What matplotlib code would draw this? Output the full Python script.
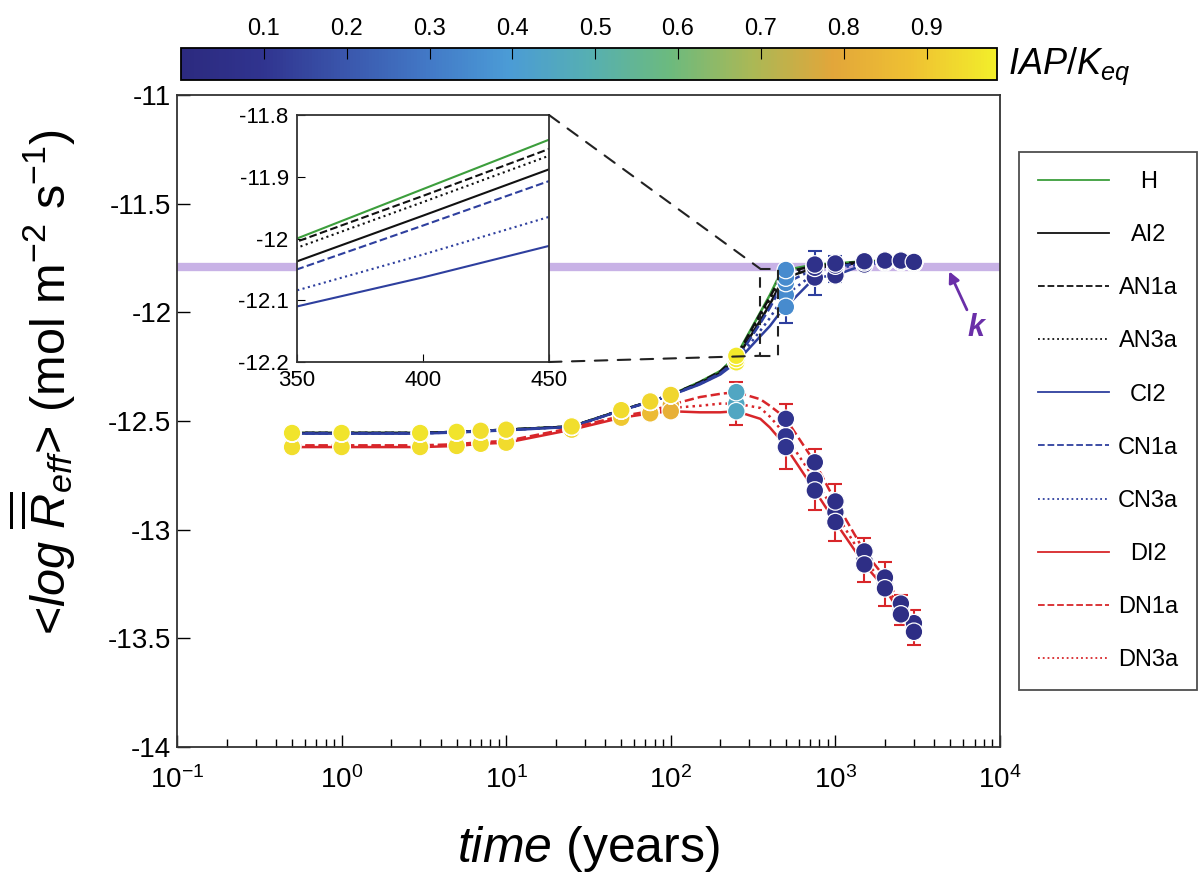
import numpy as np
import matplotlib
matplotlib.use('Agg')
import matplotlib.pyplot as plt
from matplotlib.colors import LinearSegmentedColormap, Normalize
from matplotlib.cm import ScalarMappable
from matplotlib.patches import Rectangle, ConnectionPatch
from matplotlib.ticker import FuncFormatter, LogLocator, NullFormatter

plt.rcParams['font.family'] = ['Liberation Sans', 'DejaVu Sans']
plt.rcParams['mathtext.fontset'] = 'custom'
plt.rcParams['mathtext.rm'] = 'Liberation Sans'
plt.rcParams['mathtext.it'] = 'Liberation Sans:italic'
plt.rcParams['mathtext.bf'] = 'Liberation Sans:bold:italic'

# time grid for the curves (years) and the times that carry markers
t_line = [0.5, 1, 3, 5, 7, 10, 25, 50, 75, 100, 150, 200, 250, 350, 400, 450,
          500, 750, 1000, 1500, 2000, 2500, 3000]
t_mark = [0.5, 1, 3, 5, 7, 10, 25, 50, 75, 100, 250, 500, 750, 1000, 1500,
          2000, 2500, 3000]

# <log R_eff> for each scenario, on t_line
h    = [-12.555, -12.555, -12.555, -12.55, -12.545, -12.54, -12.525, -12.45, -12.41, -12.38,
        -12.32, -12.27, -12.20, -12.00, -11.92, -11.84, -11.805, -11.78, -11.775, -11.765, -11.762, -11.762, -11.768]
ai2  = [-12.555, -12.555, -12.555, -12.55, -12.545, -12.54, -12.525, -12.45, -12.41, -12.38,
        -12.326, -12.278, -12.215, -12.037, -11.963, -11.888, -11.84, -11.795, -11.785, -11.77, -11.766, -11.766, -11.771]
an1a = [-12.555, -12.555, -12.555, -12.55, -12.545, -12.54, -12.525, -12.45, -12.41, -12.38,
        -12.322, -12.272, -12.205, -12.005, -11.931, -11.855, -11.815, -11.785, -11.778, -11.767, -11.764, -11.764, -11.769]
an3a = [-12.555, -12.555, -12.555, -12.55, -12.545, -12.54, -12.525, -12.45, -12.41, -12.38,
        -12.324, -12.275, -12.21, -12.015, -11.941, -11.866, -11.825, -11.79, -11.78, -11.768, -11.765, -11.765, -11.77]
ci2  = [-12.558, -12.558, -12.558, -12.553, -12.548, -12.543, -12.527, -12.452, -12.412, -12.382,
        -12.332, -12.286, -12.23, -12.11, -12.063, -12.012, -11.975, -11.84, -11.83, -11.78, -11.77, -11.768, -11.774]
cn1a = [-12.556, -12.556, -12.556, -12.551, -12.546, -12.541, -12.526, -12.451, -12.411, -12.381,
        -12.328, -12.28, -12.22, -12.05, -11.979, -11.907, -11.865, -11.80, -11.79, -11.772, -11.767, -11.767, -11.772]
cn3a = [-12.557, -12.557, -12.557, -12.552, -12.547, -12.542, -12.526, -12.451, -12.411, -12.381,
        -12.33, -12.283, -12.225, -12.084, -12.026, -11.965, -11.92, -11.82, -11.80, -11.775, -11.768, -11.768, -11.773]
di2  = [-12.62, -12.62, -12.62, -12.615, -12.605, -12.60, -12.54, -12.485, -12.465,
        -12.455, -12.46, -12.46, -12.455, -12.49, -12.53, -12.575, -12.62, -12.82, -12.965, -13.16, -13.27, -13.39, -13.47]
dn1a = [-12.612, -12.612, -12.612, -12.607, -12.597, -12.592, -12.532, -12.477, -12.455,
        -12.425, -12.39, -12.375, -12.367, -12.40, -12.43, -12.46, -12.49, -12.69, -12.87, -13.10, -13.22, -13.34, -13.43]
dn3a = [-12.615, -12.615, -12.615, -12.61, -12.60, -12.595, -12.535, -12.48, -12.46,
        -12.44, -12.43, -12.42, -12.42, -12.44, -12.48, -12.525, -12.57, -12.77, -12.92, -13.14, -13.25, -13.37, -13.45]

# IAP/Keq of the markers (t_mark)
iap_top = [0.96, 0.96, 0.96, 0.96, 0.95, 0.95, 0.95, 0.94, 0.93, 0.93, 0.97, 0.35, 0.07, 0.06, 0.05, 0.05, 0.05, 0.05]
iap_d   = [0.95, 0.95, 0.95, 0.95, 0.95, 0.94, 0.93, 0.90, 0.86, 0.82, 0.45, 0.10, 0.06, 0.05, 0.04, 0.04, 0.04, 0.04]

# error bars (t_mark)
err_c = [0.01, 0.01, 0.01, 0.01, 0.01, 0.01, 0.01, 0.01, 0.01, 0.01, 0.03, 0.13, 0.10, 0.06, 0.02, 0.02, 0.02, 0.02]
err_d = [0.01, 0.01, 0.01, 0.01, 0.01, 0.01, 0.01, 0.02, 0.02, 0.03, 0.10, 0.15, 0.14, 0.13, 0.10, 0.10, 0.07, 0.08]

k_value = -11.79

green = '#3c9e3c'
black = '#111111'
blue = '#2e3f9e'
red = '#d8262a'

series = [
    ('H', h, green, '-', 'top'),
    ('AI2', ai2, black, '-', 'top'),
    ('AN1a', an1a, black, '--', 'top'),
    ('AN3a', an3a, black, ':', 'top'),
    ('CI2', ci2, blue, '-', 'top'),
    ('CN1a', cn1a, blue, '--', 'top'),
    ('CN3a', cn3a, blue, ':', 'top'),
    ('DI2', di2, red, '-', 'd'),
    ('DN1a', dn1a, red, '--', 'd'),
    ('DN3a', dn3a, red, ':', 'd'),
]

cmap = LinearSegmentedColormap.from_list('iap', [
    (0.0, '#2c2a7f'), (0.1, '#30348f'), (0.2, '#3a56ac'), (0.3, '#4278c6'),
    (0.4, '#4b9bd6'), (0.5, '#56afb2'), (0.6, '#6cba7e'), (0.7, '#aab856'),
    (0.8, '#e2a63a'), (0.9, '#efc232'), (1.0, '#f2ee2a')])
norm = Normalize(vmin=0.0, vmax=0.985)

idx = [t_line.index(v) for v in t_mark]

fig = plt.figure(figsize=(12.03, 8.72), dpi=100)
W, H = 1203.0, 872.0
ax = fig.add_axes([177 / W, 1 - 747 / H, 823 / W, 652 / H])

ax.axhline(k_value, color='#c8b2e6', lw=6, zorder=0.5)

for name, vals, col, ls, br in series:
    ax.plot(t_line, vals, color=col, ls=ls, lw=1.8, zorder=2)

ax.errorbar(t_mark, [dn3a[i] for i in idx], yerr=err_d, fmt='none',
            ecolor=red, elinewidth=1.5, capsize=5, capthick=1.5, zorder=2.5)
ax.errorbar(t_mark, [cn3a[i] for i in idx], yerr=err_c, fmt='none',
            ecolor=blue, elinewidth=1.5, capsize=5, capthick=1.5, zorder=2.5)

for name, vals, col, ls, br in series[::-1]:
    c = iap_top if br == 'top' else iap_d
    ax.scatter(t_mark, [vals[i] for i in idx], c=c, cmap=cmap, norm=norm,
               s=160, edgecolors='white', linewidths=0.9, zorder=3)

ax.set_xscale('log')
ax.set_xlim(0.1, 1e4)
ax.set_ylim(-14, -11)
ax.set_yticks(np.arange(-14, -10.9, 0.5))
ax.yaxis.set_major_formatter(FuncFormatter(lambda v, p: '%g' % v))
ax.xaxis.set_major_locator(LogLocator(base=10, numticks=10))
ax.xaxis.set_minor_locator(LogLocator(base=10, subs=np.arange(2, 10), numticks=20))
ax.xaxis.set_minor_formatter(NullFormatter())
ax.tick_params(which='major', direction='in', length=9, width=1, labelsize=20,
               top=False, right=False)
ax.tick_params(axis='x', which='major', pad=14)
ax.tick_params(axis='y', which='major', pad=4)
ax.tick_params(which='minor', direction='in', length=6, width=1, top=False)
for s in ax.spines.values():
    s.set_linewidth(1.3)
    s.set_color('#333333')

ax.set_xlabel(r'$\mathit{time}$ (years)', fontsize=36, va='top')
ax.xaxis.set_label_coords(0.5, -0.118)
ax.set_ylabel(r'<$\mathit{log}\ \overline{\overline{R}}_{eff}$> (mol m$^{-2}$ s$^{-1}$)',
              fontsize=35, va='center')
ax.yaxis.set_label_coords(-0.163, 0.56)

# k arrow
ax.annotate('', xy=(4830, -11.80), xytext=(6400, -12.0),
            arrowprops=dict(arrowstyle='-|>', color='#6a2fa8', lw=2, mutation_scale=16))
ax.text(7300, -12.07, r'$\mathbf{k}$', color='#6a2fa8', fontsize=22, ha='center', va='center')

# zoom rectangle
x0, x1, y0, y1 = 350, 450, -12.2, -11.8
ax.add_patch(Rectangle((x0, y0), x1 - x0, y1 - y0, fill=False, ls=(0, (5, 4)),
                       lw=1.5, ec='#222222', zorder=4))

# inset
axi = fig.add_axes([297 / W, 1 - 362 / H, 252 / W, 247 / H])
for name, vals, col, ls, br in series[:7]:
    axi.plot(t_line, vals, color=col, ls=ls, lw=1.5)
axi.set_xlim(x0, x1)
axi.set_ylim(y0, y1)
axi.set_xticks([350, 400, 450])
axi.set_yticks([-12.2, -12.1, -12.0, -11.9, -11.8])
axi.yaxis.set_major_formatter(FuncFormatter(lambda v, p: '%g' % round(v, 2)))
axi.tick_params(direction='in', length=6, labelsize=16, pad=6)
for s in axi.spines.values():
    s.set_linewidth(1.3)
    s.set_color('#333333')

for xa, ya in [((1, 1), (x0, y1)), ((1, 0), (x0, y0))]:
    con = ConnectionPatch(xyA=xa, coordsA=axi.transAxes, xyB=ya, coordsB=ax.transData,
                          ls=(0, (6, 5)), lw=1.5, color='#222222', zorder=5)
    fig.add_artist(con)

# colorbar
cax = fig.add_axes([181 / W, 1 - 80 / H, 816 / W, 32 / H])
cb = fig.colorbar(ScalarMappable(norm=norm, cmap=cmap), cax=cax, orientation='horizontal')
cb.set_ticks([0.1, 0.2, 0.3, 0.4, 0.5, 0.6, 0.7, 0.8, 0.9])
cax.xaxis.set_ticks_position('top')
cax.tick_params(direction='in', length=8, labelsize=17, pad=6)
cb.outline.set_linewidth(1.3)
fig.text(1008 / W, 1 - 66 / H, r'$IAP/K_{eq}$', fontsize=26, va='center', ha='left')

# legend
handles = [plt.Line2D([], [], color=col, ls=ls, lw=1.3) for _, _, col, ls, _ in series]
labels = [s[0] for s in series]
leg = fig.legend(handles, labels, loc='upper left', bbox_to_anchor=(1019 / W, 1 - 152 / H),
                 frameon=True, fancybox=False, edgecolor='#222222', fontsize=17,
                 handlelength=3.0, labelspacing=1.32, borderpad=0.8, handletextpad=0.4,
                 borderaxespad=0)
leg.get_frame().set_linewidth(1.3)
fig.canvas.draw()
rend = fig.canvas.get_renderer()
widths = [tx.get_window_extent(rend).width for tx in leg.get_texts()]
wmax = max(widths)
for tx, w in zip(leg.get_texts(), widths):
    tx.set_position(((wmax - w) / 2, 0))

fig.savefig('out.png', dpi=100)
